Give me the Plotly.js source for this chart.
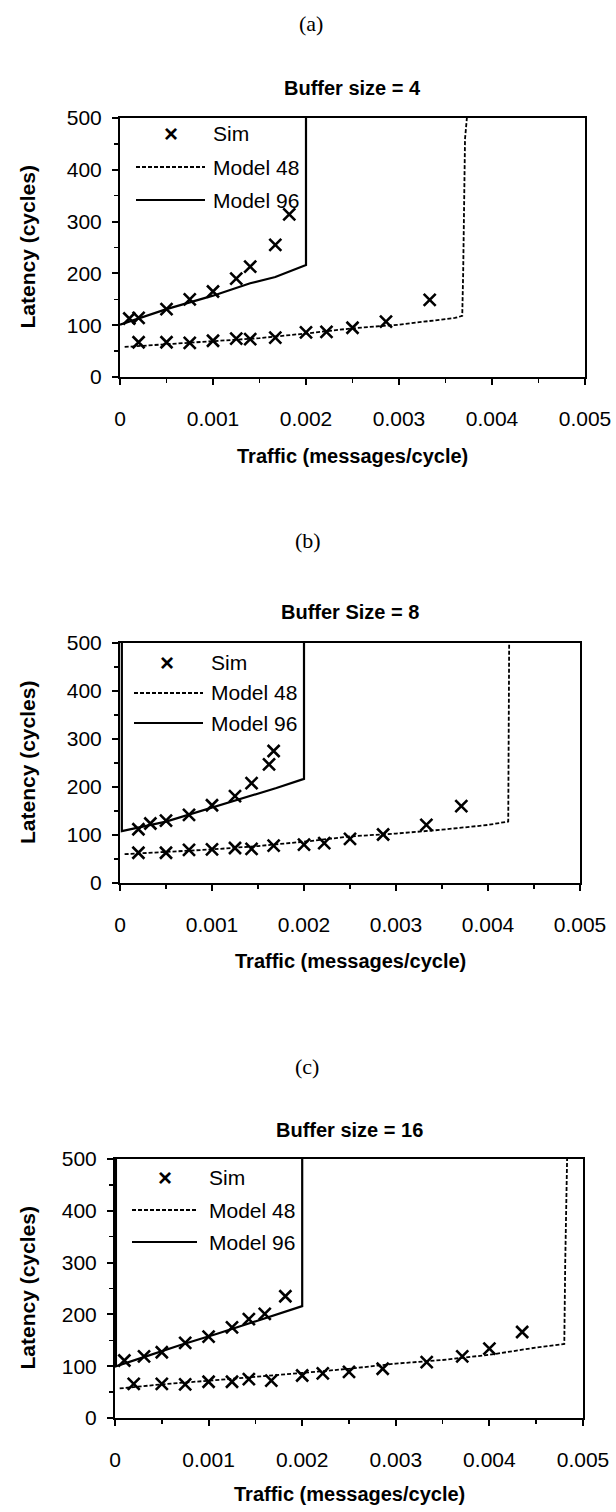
<!DOCTYPE html>
<html>
<head>
<meta charset="utf-8">
<script src="https://cdn.plot.ly/plotly-3.0.1.min.js"></script>
<style>
  html, body { margin: 0; padding: 0; background: #fff; }
  #chart { width: 616px; height: 1512px; }
</style>
</head>
<body>
<div id="chart"></div>
<script>
// ---------- data ----------
const panelLabels = ["(a)", "(b)", "(c)"];
const panelTitles = ["Buffer size = 4", "Buffer Size = 8", "Buffer size = 16"];
const xTitle = "Traffic (messages/cycle)";
const yTitle = "Latency (cycles)";
const seriesNames = ["Sim", "Model 48", "Model 96"];
const xTickVals = [0, 0.001, 0.002, 0.003, 0.004, 0.005];
const xTickText = ["0", "0.001", "0.002", "0.003", "0.004", "0.005"];
const yTickVals = [0, 100, 200, 300, 400, 500];

// Panel (a) — buffer size 4
const simA48_x = [0.0002, 0.0005, 0.00075, 0.001, 0.00125, 0.0014, 0.00167, 0.002, 0.00222, 0.0025, 0.00286, 0.00333];
const simA48_y = [67, 67, 66, 70, 74, 73, 76, 86, 87, 95, 107, 149];
const simA96_x = [0.0001, 0.0002, 0.0005, 0.00075, 0.001, 0.00125, 0.0014, 0.00167, 0.00182];
const simA96_y = [113, 114, 131, 150, 165, 190, 213, 255, 314];
const modelA48_x = [0.00005, 0.0005, 0.001, 0.0015, 0.002, 0.0025, 0.003, 0.0033, 0.0036, 0.00368, 0.00369, 0.00371, 0.00373];
const modelA48_y = [58, 63, 69, 75, 84, 94, 101, 108, 114, 118, 200, 460, 500];
const modelA96_x = [0, 0.0005, 0.001, 0.0014, 0.00167, 0.002, 0.002];
const modelA96_y = [101, 131, 157, 181, 193, 216, 500];

// Panel (b) — buffer size 8
const simB48_x = [0.0002, 0.0005, 0.00075, 0.001, 0.00125, 0.00143, 0.00167, 0.002, 0.00222, 0.0025, 0.00286, 0.00333, 0.00371];
const simB48_y = [63, 63, 69, 70, 73, 71, 78, 80, 83, 92, 101, 121, 160];
const simB96_x = [0.0002, 0.00033, 0.0005, 0.00075, 0.001, 0.00125, 0.00143, 0.00162, 0.00167];
const simB96_y = [112, 124, 130, 142, 162, 181, 208, 247, 275];
const modelB48_x = [0.00005, 0.0005, 0.001, 0.0015, 0.002, 0.0025, 0.003, 0.0035, 0.004, 0.00422, 0.00423];
const modelB48_y = [60, 64, 70, 77, 86, 97, 103, 111, 121, 128, 500];
const modelB96_x = [0.00002, 0.00002, 0.0005, 0.001, 0.0014, 0.0017, 0.002, 0.002];
const modelB96_y = [500, 108, 128, 157, 180, 198, 217, 500];

// Panel (c) — buffer size 16
const simC48_x = [0.0002, 0.0005, 0.00075, 0.001, 0.00125, 0.00143, 0.00167, 0.002, 0.00222, 0.0025, 0.00286, 0.00333, 0.00371, 0.004, 0.00435];
const simC48_y = [66, 66, 65, 70, 70, 75, 72, 82, 86, 89, 95, 108, 119, 134, 166];
const simC96_x = [0.0001, 0.00031, 0.0005, 0.00075, 0.001, 0.00125, 0.00143, 0.0016, 0.00182];
const simC96_y = [111, 119, 127, 145, 157, 175, 191, 201, 235];
const modelC48_x = [0.00005, 0.0005, 0.001, 0.0015, 0.002, 0.0025, 0.003, 0.0035, 0.004, 0.0045, 0.0048, 0.00481, 0.00483];
const modelC48_y = [57, 65, 72, 79, 87, 95, 105, 112, 122, 136, 143, 300, 500];
const modelC96_x = [0.00001, 0.00001, 0.0003, 0.0007, 0.0011, 0.0016, 0.002, 0.002];
const modelC96_y = [500, 100, 117, 141, 163, 193, 216, 500];

// ---------- layout geometry (pixels) ----------
const W = 616, H = 1512;
const px = p => p / W;
const py = p => 1 - p / H;

const panels = [
  { sfx: "",  box: [120, 585, 118, 377], label: 23, title: 88,  xt: 456,
    sim: [simA48_x.concat(simA96_x), simA48_y.concat(simA96_y)],
    m48: [modelA48_x, modelA48_y], m96: [modelA96_x, modelA96_y],
    leg: { mark: 171, lx0: 136, lx1: 205, tx: 211, rows: [15, 49, 82] } },
  { sfx: "2", box: [120, 580, 643, 883], label: 540, title: 612, xt: 961,
    sim: [simB48_x.concat(simB96_x), simB48_y.concat(simB96_y)],
    m48: [modelB48_x, modelB48_y], m96: [modelB96_x, modelB96_y],
    leg: { mark: 167, lx0: 134, lx1: 203, tx: 209, rows: [19, 50, 80] } },
  { sfx: "3", box: [115, 583, 1159, 1418], label: 1066, title: 1130, xt: 1494,
    sim: [simC48_x.concat(simC96_x), simC48_y.concat(simC96_y)],
    m48: [modelC48_x, modelC48_y], m96: [modelC96_x, modelC96_y],
    leg: { mark: 165, lx0: 132, lx1: 197, tx: 207, rows: [18, 51, 83] } }
];

const sans = "'Liberation Sans', Arial, sans-serif";
const serif = "'Liberation Serif', 'Times New Roman', serif";

const data = [];
const layout = {
  width: W, height: H,
  margin: { l: 0, r: 0, t: 0, b: 0 },
  paper_bgcolor: "#fff", plot_bgcolor: "#fff",
  showlegend: false,
  font: { family: sans, size: 20, color: "#000" },
  annotations: [], shapes: []
};

panels.forEach((p, i) => {
  const xa = "x" + p.sfx, ya = "y" + p.sfx;
  data.push({ x: p.m48[0], y: p.m48[1], xaxis: xa, yaxis: ya, mode: "lines", name: seriesNames[1],
              line: { color: "#000", width: 1.8, dash: "4px,2px" } });
  data.push({ x: p.m96[0], y: p.m96[1], xaxis: xa, yaxis: ya, mode: "lines", name: seriesNames[2],
              line: { color: "#000", width: 2.2 } });
  data.push({ x: p.sim[0], y: p.sim[1], xaxis: xa, yaxis: ya, mode: "markers", name: seriesNames[0],
              marker: { symbol: "x-thin-open", size: 12, color: "#000", line: { color: "#000", width: 2.6 } } });

  const [l, r, t, b] = p.box;
  const axCommon = {
    showgrid: false, zeroline: false, showline: true, linecolor: "#000", linewidth: 2, mirror: true,
    ticks: "outside", ticklen: 6, tickwidth: 2, tickcolor: "#000",
    tickfont: { family: sans, size: 21, color: "#000" }, fixedrange: true
  };
  layout["xaxis" + p.sfx] = Object.assign({}, axCommon, {
    domain: [px(l), px(r)], anchor: ya, range: [0, 0.005],
    tickmode: "array", tickvals: xTickVals, ticktext: xTickText, ticklabelstandoff: 16,
    minor: { dtick: 0.0005, ticks: "outside", ticklen: 4, tickwidth: 1.5, tickcolor: "#000", showgrid: false }
  });
  layout["yaxis" + p.sfx] = Object.assign({}, axCommon, {
    domain: [py(b), py(t)], anchor: xa, range: [0, 500],
    tickmode: "array", tickvals: yTickVals, ticklabelstandoff: 6,
    minor: { dtick: 50, ticks: "outside", ticklen: 4, tickwidth: 1.5, tickcolor: "#000", showgrid: false }
  });

  const cx = (l + r) / 2;
  layout.annotations.push(
    { text: panelLabels[i], xref: "paper", yref: "paper", x: px(cx - 42), y: py(p.label), showarrow: false,
      font: { family: serif, size: 22 }, xanchor: "center", yanchor: "middle" },
    { text: "<b>" + panelTitles[i] + "</b>", xref: "paper", yref: "paper", x: px(cx), y: py(p.title), showarrow: false,
      font: { family: sans, size: 20 }, xanchor: "center", yanchor: "middle" },
    { text: "<b>" + xTitle + "</b>", xref: "paper", yref: "paper", x: px(cx), y: py(p.xt), showarrow: false,
      font: { family: sans, size: 20 }, xanchor: "center", yanchor: "middle" },
    { text: "<b>" + yTitle + "</b>", xref: "paper", yref: "paper", x: px(27), y: py((t + b) / 2), showarrow: false,
      textangle: -90, font: { family: sans, size: 21 }, xanchor: "center", yanchor: "middle" }
  );

  // legend (drawn inside plot, top-left)
  const L = p.leg;
  const rowY = L.rows.map(o => t + o);
  layout.annotations.push(
    { text: "<b>×</b>", xref: "paper", yref: "paper", x: px(L.mark), y: py(rowY[0]), showarrow: false,
      font: { family: sans, size: 24 }, xanchor: "center", yanchor: "middle" }
  );
  seriesNames.forEach((nm, k) => {
    layout.annotations.push({ text: nm, xref: "paper", yref: "paper", x: px(L.tx), y: py(rowY[k]), showarrow: false,
      font: { family: sans, size: 21 }, xanchor: "left", yanchor: "middle" });
  });
  layout.shapes.push(
    { type: "line", xref: "paper", yref: "paper", x0: px(L.lx0), x1: px(L.lx1), y0: py(rowY[1]), y1: py(rowY[1]),
      line: { color: "#000", width: 1.8, dash: "4px,2px" } },
    { type: "line", xref: "paper", yref: "paper", x0: px(L.lx0), x1: px(L.lx1), y0: py(rowY[2]), y1: py(rowY[2]),
      line: { color: "#000", width: 2.2 } }
  );
});

Plotly.newPlot("chart", data, layout, { displayModeBar: false, staticPlot: true });
</script>
</body>
</html>
